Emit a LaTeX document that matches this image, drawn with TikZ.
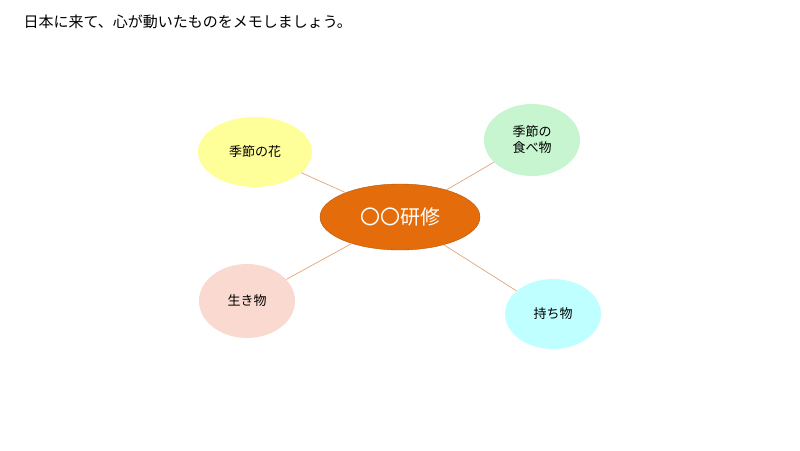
\documentclass[tikz,border=0pt]{standalone}
\usepackage{fontspec}
\setmainfont{Noto Sans CJK JP}
\usetikzlibrary{shapes.geometric}
\definecolor{cor}{HTML}{E46C0A}
\definecolor{cln}{HTML}{E0A57A}
\begin{document}
\begin{tikzpicture}[x=1pt,y=-1pt,
 bub/.style={ellipse,draw=none,minimum width=#1,align=center,font=\fontsize{13}{16}\selectfont,inner sep=0pt},
 ln/.style={draw=cln,line width=0.7pt}]
\useasboundingbox (0,0) rectangle (800,450);
\node[anchor=west,font=\fontsize{15}{18}\selectfont] (t) at (20,22) {日本に来て、心が動いたものをメモしましょう。};
\node[bub=114,minimum height=70,fill={rgb,255:red,255;green,255;blue,153}] (a) at (255,152) {季節の花};
\node[bub=96,minimum height=72,fill={rgb,255:red,198;green,245;blue,208}] (b) at (532,140) {季節の\\食べ物};
\node[bub=96,minimum height=74,fill={rgb,255:red,249;green,217;blue,208}] (c) at (247,301) {生き物};
\node[bub=96,minimum height=70,fill={rgb,255:red,192;green,255;blue,255}] (d) at (553,314) {持ち物};
\node[ellipse,fill=cor,draw=cor!80!black,minimum width=160,minimum height=66,text=white,font=\fontsize{20}{24}\selectfont] (m) at (400,217) {〇〇研修};
\draw[ln] (m) -- (a); \draw[ln] (m) -- (b); \draw[ln] (m) -- (c); \draw[ln] (m) -- (d);
\end{tikzpicture}
\end{document}
